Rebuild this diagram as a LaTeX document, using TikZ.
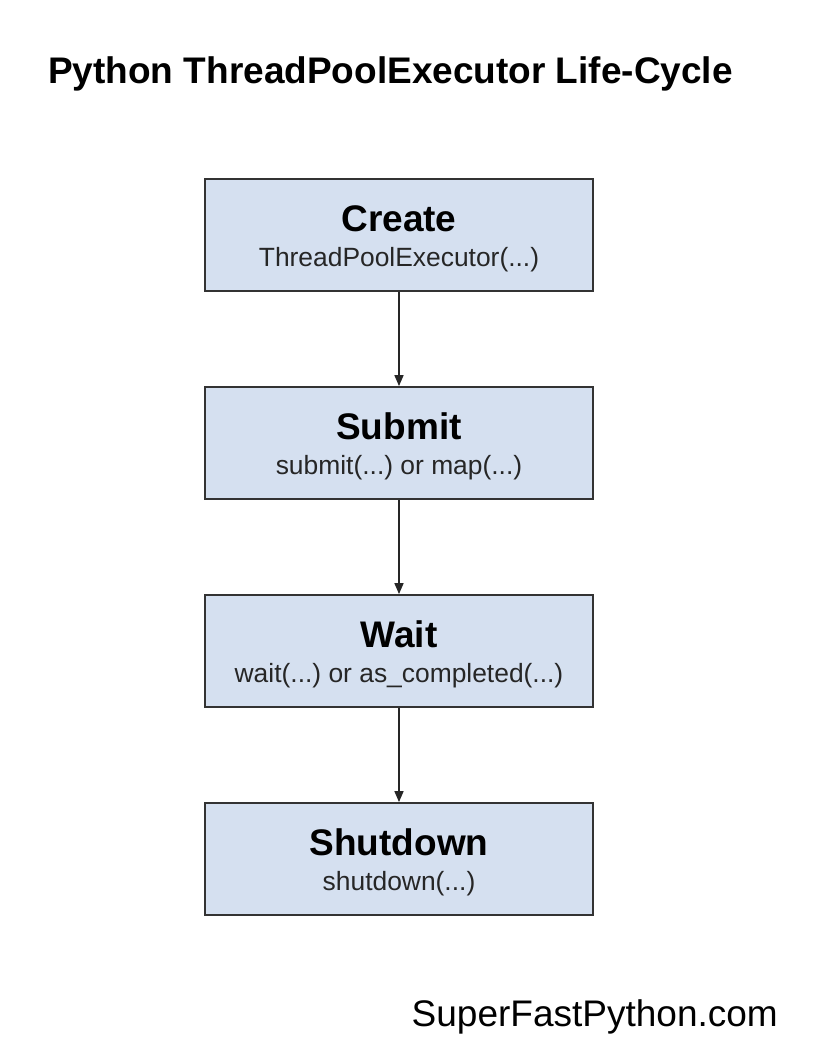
\documentclass[tikz,border=0pt]{standalone}
\usepackage{fontspec}
\setmainfont{Liberation Sans}
\usetikzlibrary{arrows.meta}
\definecolor{boxblue}{HTML}{D5E0F0}
\definecolor{edgegray}{HTML}{333333}
\newcommand{\args}{(...)}
\frenchspacing

\begin{document}
\begin{tikzpicture}[x=1pt,y=-1pt,
    stagebox/.style={draw=edgegray,line width=1.8pt,fill=boxblue,
      minimum width=388pt,minimum height=112pt,inner sep=0pt},
    stagehead/.style={anchor=base,inner sep=0pt,font=\fontsize{37}{44}\selectfont\bfseries},
    stagecall/.style={anchor=base,inner sep=0pt,text=black!85,font=\fontsize{26.4}{32}\selectfont},
    flow/.style={draw=black!85,line width=1.6pt,-{Triangle[length=11pt,width=9pt]}}]
  \useasboundingbox (0,0) rectangle (828,1058);

  \node[anchor=base west,inner sep=0pt,font=\fontsize{37}{44}\selectfont\bfseries] (title) at (48,83)
    {Python ThreadPoolExecutor Life-Cycle};

  \foreach \name/\head/\call/\y in {create/Create/ThreadPoolExecutor\args/235,
      submit/Submit/submit\args{} or map\args/443,
      wait/Wait/wait\args{} or as\_completed\args/651,
      shutdown/Shutdown/shutdown\args/859}
  {
    \node[stagebox] (\name) at (399,\y) {};
    \node[stagehead] (\name-head) at ([yshift=-53pt]\name.north) {\head};
    \node[stagecall] (\name-call) at ([yshift=-88pt]\name.north) {\call};
  }

  \draw[flow] (create) -- (submit);
  \draw[flow] (submit) -- (wait);
  \draw[flow] (wait) -- (shutdown);

  \node[anchor=base east,inner sep=0pt,font=\fontsize{37}{44}\selectfont] (site) at (778,1026)
    {SuperFastPython.com};
\end{tikzpicture}
\end{document}
